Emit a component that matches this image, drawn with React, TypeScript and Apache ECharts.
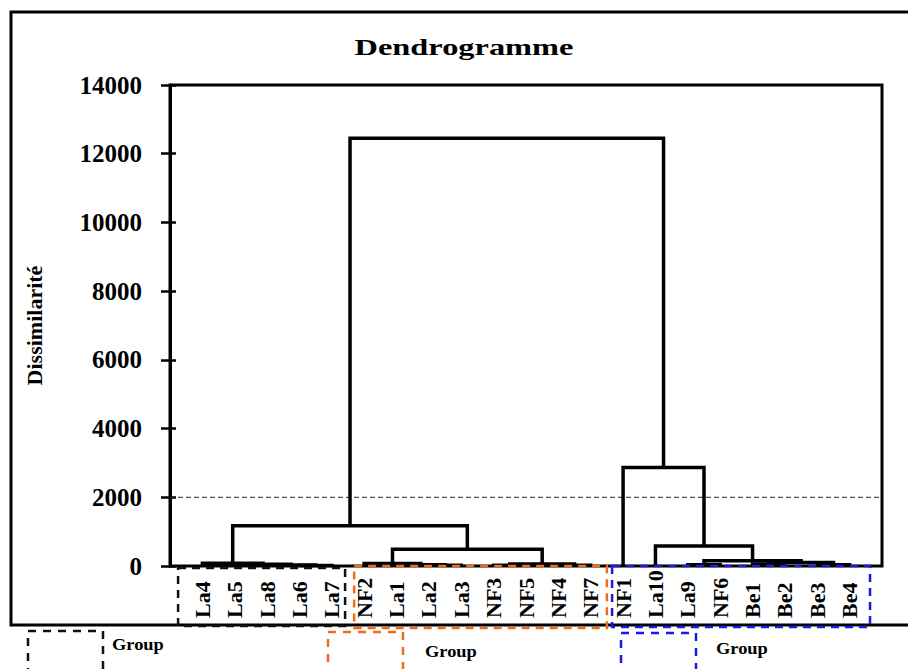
import React, { useEffect, useRef } from "react";
import * as echarts from "echarts";

// ---- data ----
const leaves = [
  "La4", "La5", "La8", "La6", "La7", "NF2", "La1", "La2", "La3", "NF3", "NF5",
  "NF4", "NF7", "NF1", "La10", "La9", "NF6", "Be1", "Be2", "Be3", "Be4",
];

// [node id, left child, right child, dissimilarity at merge]
const merges: [string, string, string, number][] = [
  ["a1", "La6", "La7", 15],
  ["a2", "La8", "a1", 30],
  ["a3", "La5", "a2", 50],
  ["a4", "La4", "a3", 80],
  ["b1", "La2", "La3", 20],
  ["b2", "La1", "b1", 40],
  ["b3", "NF2", "b2", 70],
  ["b4", "NF3", "NF5", 25],
  ["b5", "NF4", "NF7", 20],
  ["b6", "b4", "b5", 60],
  ["b7", "b3", "b6", 490],
  ["L", "a4", "b7", 1170],
  ["c1", "La9", "NF6", 40],
  ["c2", "Be1", "Be2", 60],
  ["c3", "Be3", "Be4", 40],
  ["c4", "c2", "c3", 100],
  ["c5", "c1", "c4", 150],
  ["c6", "La10", "c5", 580],
  ["R", "NF1", "c6", 2870],
  ["root", "L", "R", 12450],
];

const yMin = 0;
const yMax = 14000;
const yStep = 2000;
const cutHeight = 2000;
const titleText = "Dendrogramme";
const yAxisName = "Dissimilarité";
const groupNames = ["Group", "Group", "Group"];
const groupFirstLeaf = ["La4", "NF2", "NF1"];
const groupLastLeaf = ["La7", "NF7", "Be4"];

const FONT = "Liberation Serif";
const groupColors = ["#111111", "#f26b1d", "#1a1ae6"];

function buildSegments() {
  const pos: Record<string, { x: number; h: number }> = {};
  leaves.forEach((n, i) => (pos[n] = { x: i + 1, h: 0 }));
  return merges.map(([id, a, b, h]) => {
    const A = pos[a];
    const B = pos[b];
    pos[id] = { x: (A.x + B.x) / 2, h };
    return [A.x, A.h, B.x, B.h, h];
  });
}

export default function App() {
  const ref = useRef<HTMLDivElement>(null);
  useEffect(() => {
    document.body.style.margin = "0";
    if (!ref.current) return;
    const chart = echarts.init(ref.current, null, { renderer: "svg" });
    const segments = buildSegments();
    // group box extents in leaf units (box padding around first / last leaf)
    const padL = [0.75, 0.31, 0.34];
    const padR = [0.41, 0.5, 0.63];
    const tops = [2, 0, 0];
    const bottoms = [60, 62, 61];
    const boxes = groupFirstLeaf.map((f, i) => [
      leaves.indexOf(f) + 1 - padL[i],
      leaves.indexOf(groupLastLeaf[i]) + 1 + padR[i],
      i,
    ]);

    const labelStyle = {
      fontFamily: FONT,
      fontWeight: "bold" as const,
      color: "#000",
    };

    chart.setOption({
      animation: false,
      grid: [
        {
          left: 170,
          right: 26,
          top: 85,
          bottom: 103,
          show: true,
          borderColor: "#000",
          borderWidth: 3,
        },
        { left: 170, right: 26, top: 85, bottom: 103 },
      ],
      xAxis: [
        {
          type: "value",
          gridIndex: 0,
          min: 0,
          max: leaves.length + 1,
          interval: 1,
          axisLine: { show: false },
          axisTick: { show: false },
          splitLine: { show: false },
          axisLabel: {
            ...labelStyle,
            fontSize: 22,
            rotate: 90,
            align: "left",
            verticalAlign: "middle",
            margin: 52,
            formatter: (v: number) => leaves[v - 1] ?? "",
          },
        },
        {
          type: "value",
          gridIndex: 1,
          min: 0,
          max: leaves.length + 1,
          show: false,
        },
      ],
      yAxis: [
        {
          type: "value",
          gridIndex: 0,
          min: yMin,
          max: yMax,
          interval: yStep,
          axisLine: { show: true, lineStyle: { color: "#000", width: 3 } },
          axisTick: { show: true, length: 9, lineStyle: { color: "#000", width: 2.5 } },
          splitLine: { show: false },
          axisLabel: {
            ...labelStyle,
            fontSize: 25,
            margin: 28,
            formatter: (v: number) => String(v),
          },
          name: yAxisName,
          nameLocation: "middle",
          nameRotate: 90,
          nameGap: 125,
          nameTextStyle: { ...labelStyle, fontSize: 22 },
        },
        {
          type: "value",
          gridIndex: 1,
          position: "left",
          min: yMin,
          max: yMax,
          interval: yStep,
          axisLine: { show: false },
          axisTick: { show: true, inside: true, length: 6, lineStyle: { color: "#000", width: 2.5 } },
          axisLabel: { show: false },
          splitLine: { show: false },
        },
      ],
      series: [
        {
          type: "line",
          xAxisIndex: 0,
          yAxisIndex: 0,
          data: [
            [0, cutHeight],
            [leaves.length + 1, cutHeight],
          ],
          symbol: "none",
          lineStyle: { color: "#222", width: 1, type: [5, 3] },
          z: 1,
        },
        {
          type: "custom",
          xAxisIndex: 0,
          yAxisIndex: 0,
          data: segments,
          encode: { x: [0, 2], y: [1, 3, 4] },
          z: 3,
          renderItem: (_p: any, api: any) => {
            const xa = api.value(0);
            const ha = api.value(1);
            const xb = api.value(2);
            const hb = api.value(3);
            const h = api.value(4);
            return {
              type: "polyline",
              shape: {
                points: [
                  api.coord([xa, ha]),
                  api.coord([xa, h]),
                  api.coord([xb, h]),
                  api.coord([xb, hb]),
                ],
              },
              style: { stroke: "#000", lineWidth: 3.5, fill: null, lineJoin: "miter" },
            };
          },
        },
        {
          type: "custom",
          xAxisIndex: 0,
          yAxisIndex: 0,
          data: boxes,
          clip: false,
          encode: { x: [0, 1] },
          z: 6,
          renderItem: (_p: any, api: any) => {
            const i = api.value(2);
            const p0 = api.coord([api.value(0), 0]);
            const p1 = api.coord([api.value(1), 0]);
            return {
              type: "rect",
              shape: {
                x: p0[0],
                y: p0[1] + tops[i],
                width: p1[0] - p0[0],
                height: bottoms[i] - tops[i],
              },
              style: {
                fill: "none",
                stroke: groupColors[i],
                lineWidth: 2.5,
                lineDash: [8, 6],
              },
            };
          },
        },
      ],
      graphic: [
        {
          type: "polyline",
          shape: {
            points: [
              [920, 12],
              [11, 12],
              [11, 625],
              [920, 625],
            ],
          },
          style: { stroke: "#000", lineWidth: 3, fill: null },
          z: 0,
        },
        {
          type: "text",
          x: 464,
          y: 47,
          scaleX: 1.35,
          style: {
            text: titleText,
            fontFamily: FONT,
            fontWeight: "bold",
            fontSize: 24,
            fill: "#000",
            align: "center",
            verticalAlign: "middle",
          },
        },
        ...[
          [28, 631],
          [328, 632],
          [621, 633],
        ].map(([x, y], i) => ({
          type: "rect",
          shape: { x, y, width: 75, height: 60 },
          style: {
            fill: "none",
            stroke: groupColors[i],
            lineWidth: 2.5,
            lineDash: [8, 7],
          },
        })),
        ...[
          [112, 645],
          [425, 652],
          [716, 649],
        ].map(([x, y], i) => ({
          type: "text",
          x,
          y,
          scaleX: 1.15,
          style: {
            text: groupNames[i],
            fontFamily: FONT,
            fontWeight: "bold",
            fontSize: 16,
            fill: "#000",
            align: "left",
            verticalAlign: "middle",
          },
        })),
      ],
    });
    return () => chart.dispose();
  }, []);
  return <div ref={ref} style={{ width: 908, height: 669 }} />;
}
